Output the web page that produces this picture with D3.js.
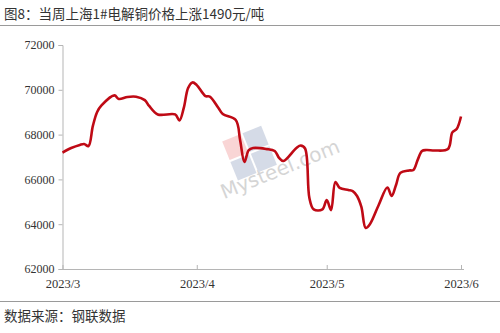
<!DOCTYPE html>
<html>
<head>
<meta charset="utf-8">
<script src="https://cdn.jsdelivr.net/npm/d3@7"></script>
<style>
  body { margin: 0; background: #fff; }
  svg { display: block; }
</style>
</head>
<body>
<svg id="chart" width="500" height="333"></svg>
<script>
// 上海1#电解铜价格 (元/吨)
const dates = [
  '2023-03-01','2023-03-03','2023-03-05','2023-03-06','2023-03-07','2023-03-08','2023-03-09','2023-03-10',
  '2023-03-13','2023-03-14','2023-03-16','2023-03-18','2023-03-20','2023-03-21','2023-03-23','2023-03-27',
  '2023-03-28','2023-03-29','2023-03-30','2023-03-31','2023-04-01','2023-04-03','2023-04-04','2023-04-06',
  '2023-04-07','2023-04-10','2023-04-11','2023-04-12','2023-04-13','2023-04-14','2023-04-17','2023-04-19',
  '2023-04-20','2023-04-21','2023-04-24','2023-04-25','2023-04-26','2023-04-27','2023-04-28','2023-04-30',
  '2023-05-01','2023-05-02','2023-05-03','2023-05-04','2023-05-06','2023-05-07','2023-05-08','2023-05-09',
  '2023-05-10','2023-05-11','2023-05-13','2023-05-15','2023-05-16','2023-05-17','2023-05-18','2023-05-20',
  '2023-05-21','2023-05-22','2023-05-23','2023-05-24','2023-05-26','2023-05-29','2023-05-30','2023-05-31',
  '2023-06-01'
]
const prices = [
  67200, 67400, 67540, 67580, 67490, 68380, 69010, 69300,
  69750, 69590, 69680, 69690, 69540, 69280, 68900, 68900,
  68630, 69190, 70080, 70330, 70210, 69720, 69700, 69190,
  68920, 68650, 67760, 66780, 67310, 67400, 67360, 67270,
  66960, 66820, 67400, 67510, 67380, 65170, 64660, 64660,
  65080, 64630, 65880, 65620, 65530, 65480, 65260, 64770,
  63830, 64010, 64860, 65640, 65260, 65750, 66290, 66400,
  66420, 66870, 67270, 67310, 67290, 67360, 68100, 68250,
  68810
]
const yTicks = [62000, 64000, 66000, 68000, 70000, 72000]
const xTicks = ['2023-03-01', '2023-04-01', '2023-05-01', '2023-06-01']
const title = '图8：当周上海1#电解铜价格上涨1490元/吨'
const source = '数据来源：钢联数据'

const parse = d3.timeParse('%Y-%m-%d')
const data = dates.map((d, i) => ({ date: parse(d), value: prices[i] }))

const svg = d3.select('#chart')
const serif = '"Liberation Serif", "Times New Roman", serif'
const cjk = '"Noto Sans CJK SC", "Noto Sans", sans-serif'

// header + footer
svg.append('text')
  .attr('x', 4).attr('y', 19)
  .style('font-family', cjk).style('font-size', '13.5px')
  .attr('fill', '#333')
  .text(title)
svg.append('line')
  .attr('x1', 0).attr('x2', 500).attr('y1', 25.5).attr('y2', 25.5)
  .attr('stroke', '#9a9a9a')
svg.append('line')
  .attr('x1', 0).attr('x2', 500).attr('y1', 301.5).attr('y2', 301.5)
  .attr('stroke', '#9a9a9a')
svg.append('text')
  .attr('x', 4).attr('y', 321)
  .style('font-family', cjk).style('font-size', '13.5px')
  .attr('fill', '#333')
  .text(source)

const x = d3.scaleTime()
  .domain([parse('2023-03-01'), parse('2023-06-01')])
  .range([62.5, 461])
const y = d3.scaleLinear()
  .domain([62000, 72000])
  .range([269, 45])

// watermark
const wm = svg.append('g')
  .attr('transform', 'translate(262,160) rotate(-22)')
  .attr('opacity', 0.35)
wm.append('text')
  .attr('x', -50).attr('y', 22)
  .style('font-family', '"DejaVu Sans", sans-serif').style('font-size', '20px')
  .attr('fill', '#888')
  .text('Mysteel.com')
wm.append('rect').attr('x', -30).attr('y', -32).attr('width', 20).attr('height', 20).attr('fill', '#e88')
wm.append('rect').attr('x', -8).attr('y', -32).attr('width', 20).attr('height', 20).attr('fill', '#89b')
wm.append('rect').attr('x', -30).attr('y', -10).attr('width', 20).attr('height', 20).attr('fill', '#89b')
wm.append('rect').attr('x', -8).attr('y', -10).attr('width', 20).attr('height', 20).attr('fill', '#89b')

// y axis
const yAxis = svg.append('g')
  .attr('transform', 'translate(62.5,0)')
  .call(d3.axisLeft(y).tickValues(yTicks).tickSize(4).tickPadding(4).tickFormat(d3.format('d')))
yAxis.selectAll('path, line').attr('stroke', '#b5b5b5')
yAxis.selectAll('text')
  .style('font-family', serif).style('font-size', '12px').attr('fill', '#333')

// x axis, ticks point up
const xAxis = svg.append('g')
  .attr('transform', 'translate(0,269)')
  .call(d3.axisBottom(x).tickValues(xTicks.map(parse)).tickSizeInner(-4).tickSizeOuter(0)
    .tickPadding(10).tickFormat(d3.timeFormat('%Y/%-m')))
xAxis.select('.domain').attr('d', 'M62.5,0.5H464')
xAxis.selectAll('path, line').attr('stroke', '#b5b5b5')
xAxis.selectAll('text')
  .style('font-family', serif).style('font-size', '12.5px').attr('fill', '#333')

// price line
const line = d3.line()
  .x(d => x(d.date))
  .y(d => y(d.value))
  .curve(d3.curveCatmullRom.alpha(0.5))

svg.append('path')
  .datum(data)
  .attr('d', line)
  .attr('fill', 'none')
  .attr('stroke', '#bf0a15')
  .attr('stroke-width', 2.6)
  .attr('stroke-linejoin', 'round')
</script>
</body>
</html>
